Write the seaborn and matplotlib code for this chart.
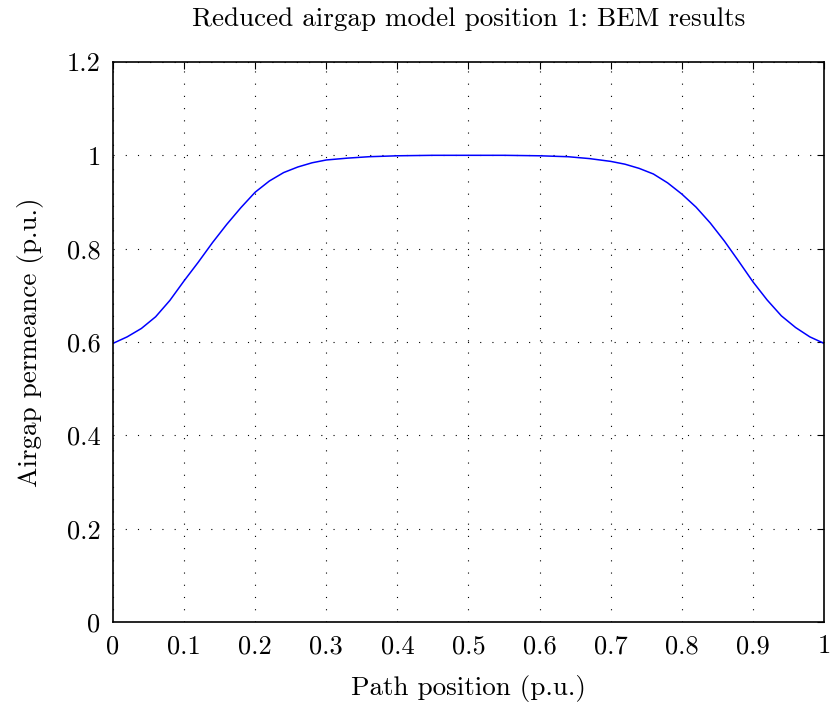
import matplotlib
matplotlib.use("Agg")
import matplotlib.pyplot as plt
import seaborn as sns
import pandas as pd

# --- data ---
path_pos = [0.00, 0.02, 0.04, 0.06, 0.08, 0.10, 0.12, 0.14, 0.16, 0.18,
            0.20, 0.22, 0.24, 0.26, 0.28, 0.30, 0.33, 0.36, 0.40, 0.45,
            0.50, 0.55, 0.60, 0.64, 0.67, 0.70, 0.72, 0.74, 0.76, 0.78,
            0.80, 0.82, 0.84, 0.86, 0.88, 0.90, 0.92, 0.94, 0.96, 0.98, 1.00]
permeance = [0.597, 0.611, 0.629, 0.654, 0.689, 0.731, 0.771, 0.813, 0.852, 0.888,
             0.921, 0.945, 0.963, 0.975, 0.984, 0.990, 0.994, 0.997, 0.999, 1.000,
             1.000, 1.000, 0.999, 0.997, 0.993, 0.987, 0.981, 0.972, 0.960, 0.941,
             0.917, 0.889, 0.855, 0.816, 0.773, 0.729, 0.690, 0.656, 0.631, 0.611, 0.597]
x_ticks = [0, 0.1, 0.2, 0.3, 0.4, 0.5, 0.6, 0.7, 0.8, 0.9, 1]
x_labels = ["0", "0.1", "0.2", "0.3", "0.4", "0.5", "0.6", "0.7", "0.8", "0.9", "1"]
y_ticks = [0, 0.2, 0.4, 0.6, 0.8, 1.0, 1.2]
y_labels = ["0", "0.2", "0.4", "0.6", "0.8", "1", "1.2"]

df = pd.DataFrame({"pos": path_pos, "perm": permeance})

sns.set_theme(style="white")
plt.rcParams["font.family"] = ["cmr10", "DejaVu Serif"]
plt.rcParams["axes.formatter.use_mathtext"] = True
plt.rcParams["text.color"] = "black"
plt.rcParams["axes.labelcolor"] = "black"

fig = plt.figure(figsize=(8.3, 7.02), dpi=100)
ax = fig.add_axes([0.1361, 0.1140, 0.8567, 0.7977])

sns.lineplot(data=df, x="pos", y="perm", color="#0000ff", linewidth=1.1, ax=ax)

ax.set_xlim(0, 1)
ax.set_ylim(0, 1.2)
ax.set_xticks(x_ticks)
ax.set_xticklabels(x_labels)
ax.set_yticks(y_ticks)
ax.set_yticklabels(y_labels)

ax.grid(True, color="black", linestyle=(0, (1, 10)), linewidth=0.8)
ax.tick_params(direction="in", length=5, width=0.8, top=True, right=True,
               labelsize=19, colors="black", pad=9)
for sp in ax.spines.values():
    sp.set_color("black")
    sp.set_linewidth(1.2)

ax.set_title("Reduced airgap model position 1: BEM results", fontsize=19.5, pad=26)
ax.set_xlabel("Path position (p.u.)", fontsize=19.5, labelpad=12)
ax.set_ylabel("Airgap permeance (p.u.)", fontsize=19.5, labelpad=16)

fig.savefig("out.png", dpi=100)
